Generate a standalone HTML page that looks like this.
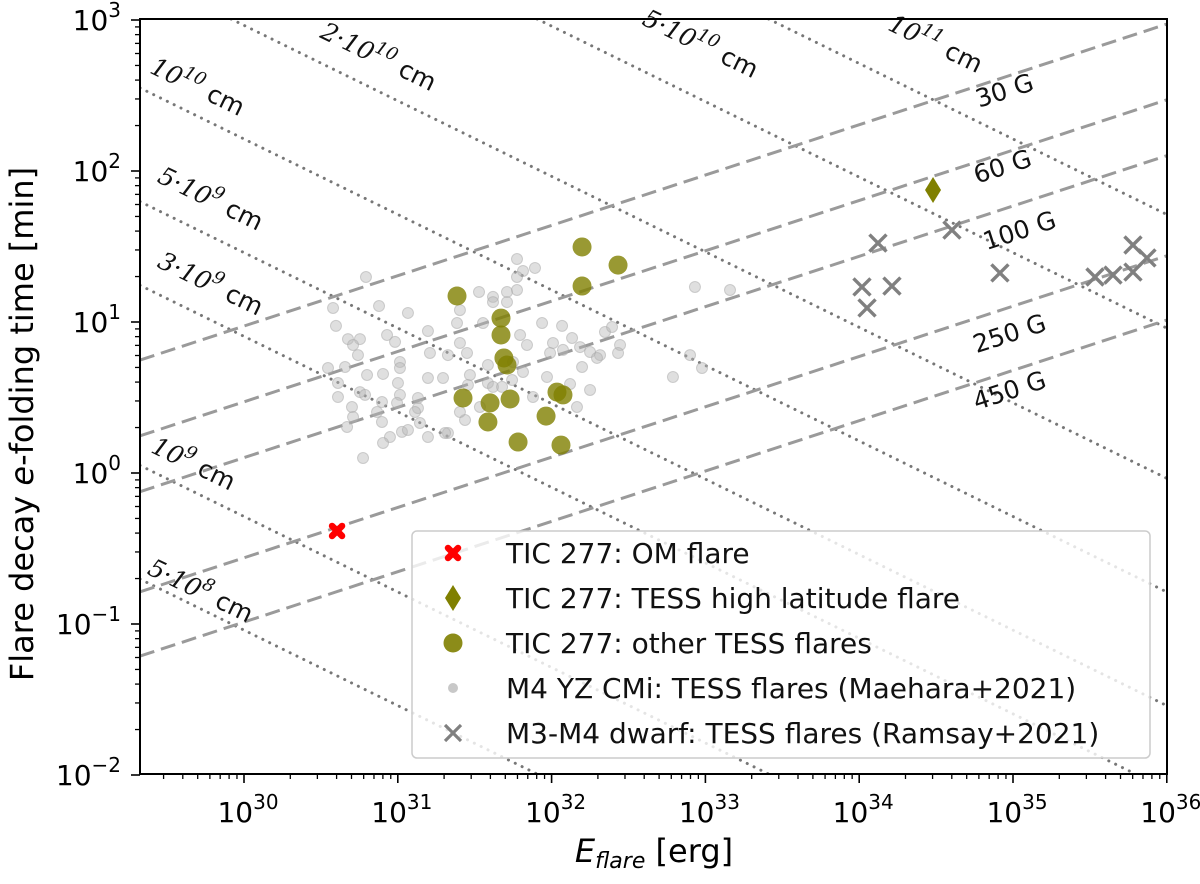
<!DOCTYPE html>
<html><head><meta charset="utf-8"><style>
html,body{margin:0;padding:0;background:#fff;overflow:hidden;}
svg{display:block;font-family:"DejaVu Sans","Liberation Sans",sans-serif;}
</style></head><body>
<svg id="chart" width="1200" height="884" viewBox="0 0 1200 884" xmlns="http://www.w3.org/2000/svg">
<defs><clipPath id="plotclip"><rect x="140" y="19" width="1027" height="755"/></clipPath></defs>
<rect x="0" y="0" width="1200" height="884" fill="#fff"/>
<g id="guides" clip-path="url(#plotclip)"></g>
<g id="guideLabels"></g>
<g id="marks" clip-path="url(#plotclip)"></g>
<g id="axes"></g>
<g id="legend"></g>
<text x="654" y="862" font-size="32" text-anchor="middle"><tspan font-style="italic">E</tspan><tspan font-style="italic" font-size="22" dy="6">flare</tspan><tspan dy="-6"> [erg]</tspan></text>
<text transform="translate(33,424) rotate(-90)" font-size="32" text-anchor="middle">Flare decay <tspan font-style="italic">e</tspan>-folding time [min]</text>
</svg>
<script>
// ---- data (log10 values) ----
const omLogE = [30.605];
const omLogTau = [-0.384];
const hlLogE = [34.48];
const hlLogTau = [1.874];
const tessLogE = [31.385,31.671,31.671,31.690,31.710,31.424,31.600,31.730,31.586,31.782,31.964,32.035,32.074,32.061,32.198,32.198,32.432];
const tessLogTau = [1.172,1.026,0.914,0.762,0.715,0.497,0.464,0.490,0.338,0.205,0.377,0.536,0.517,0.185,1.497,1.238,1.377];
const maeharaLogE = [30.793,30.579,30.598,30.878,31.066,30.676,30.754,30.709,30.741,30.930,30.982,31.196,30.546,30.657,30.800,30.904,31.014,31.014,30.611,30.754,30.787,31.001,31.014,30.897,30.702,30.709,30.670,30.865,30.897,30.995,31.131,31.131,30.949,30.904,31.027,31.066,31.196,31.326,30.774,31.196,31.294,31.209,31.326,31.404,31.450,31.385,31.404,31.528,31.619,31.619,31.710,31.710,31.775,31.775,31.814,31.892,31.775,31.554,31.795,31.840,31.938,32.068,32.009,31.990,32.133,32.074,32.185,32.250,32.315,32.347,32.393,32.445,32.432,32.295,32.198,31.970,32.120,32.250,31.879,31.814,31.749,31.586,31.469,31.456,31.586,31.619,31.678,31.743,31.437,31.404,31.534,32.165,32.789,32.900,32.978,32.932,33.160,31.307,30.611,31.112,31.144];
const maeharaLogTau = [1.298,1.093,0.974,1.106,1.060,0.887,0.887,0.848,0.781,0.914,0.868,0.940,0.695,0.702,0.649,0.656,0.735,0.695,0.596,0.536,0.517,0.596,0.517,0.470,0.437,0.371,0.305,0.404,0.338,0.464,0.497,0.430,0.238,0.199,0.272,0.285,0.238,0.265,0.099,0.629,0.629,0.795,0.781,0.861,0.795,0.993,1.079,1.199,1.166,1.132,1.199,1.132,1.212,1.417,1.338,1.358,1.298,0.993,0.914,0.848,0.993,0.974,0.861,0.795,0.894,0.815,0.834,0.801,0.781,0.934,0.967,0.848,0.795,0.762,0.702,0.636,0.589,0.550,0.503,0.669,0.735,0.715,0.649,0.583,0.596,0.570,0.570,0.616,0.351,0.404,0.437,0.437,0.636,0.781,0.695,1.232,1.212,0.265,0.503,0.404,0.331];
const ramsayLogE = [34.122,34.603,34.915,34.018,34.213,34.051,35.533,35.650,35.780,35.780,35.871];
const ramsayLogTau = [1.523,1.609,1.325,1.232,1.238,1.093,1.298,1.311,1.331,1.510,1.424];
const lengthsCm = [5e8,1e9,3e9,5e9,1e10,2e10,5e10,1e11];
const fieldsG = [30,60,100,250,450];
const xTickExp = [30,31,32,33,34,35,36];
const yTickExp = [-2,-1,0,1,2,3];
const legendLabels = ["TIC 277: OM flare","TIC 277: TESS high latitude flare","TIC 277: other TESS flares","M4 YZ CMi: TESS flares (Maehara+2021)","M3-M4 dwarf: TESS flares (Ramsay+2021)"];

// ---- axes ----
const X0=244, XD=153.8, Y0=473, YD=151;
const LEFT=140, RIGHT=1167, TOP=19, BOTTOM=774;
const LOGEMIN=30+(LEFT-X0)/XD, LOGEMAX=36;
const LOGTMIN=(Y0-BOTTOM)/YD, LOGTMAX=(Y0-TOP)/YD;
function xs(l){return X0+(l-30)*XD;}
function ys(l){return Y0-l*YD;}
const NS="http://www.w3.org/2000/svg";
function mk(tag,attrs,parent){const e=document.createElementNS(NS,tag);for(const k in attrs)e.setAttribute(k,attrs[k]);parent.appendChild(e);return e;}
// clip a line logT = a*logE + b to the plot box (in data space)
function clipSeg(a,b){
  let e1=LOGEMIN,e2=LOGEMAX;
  const eA=(LOGTMIN-b)/a, eB=(LOGTMAX-b)/a;
  const lo=Math.min(eA,eB), hi=Math.max(eA,eB);
  e1=Math.max(e1,lo); e2=Math.min(e2,hi);
  return [e1,e2];
}

const guides=document.getElementById('guides');
lengthsCm.forEach(L=>{
  const a=-0.5, b=2.5*Math.log10(L)-7.788;
  const [e1,e2]=clipSeg(a,b);
  const ln=mk('line',{x1:xs(e1),y1:ys(a*e1+b),x2:xs(e2),y2:ys(a*e2+b),stroke:'#777','stroke-width':3,'stroke-dasharray':'0.1,7.5','stroke-linecap':'round'},guides);
  
  
});
fieldsG.forEach(B=>{
  const a=1/3, b=-5/3*Math.log10(B)-6.565;
  const [e1,e2]=clipSeg(a,b);
  const ln=mk('line',{x1:xs(e1),y1:ys(a*e1+b),x2:xs(e2),y2:ys(a*e2+b),stroke:'#9a9a9a','stroke-width':3,'stroke-dasharray':'15,7'},guides);
  
  
});

// guide labels
const gl=document.getElementById('guideLabels');
const dotLabels=[
 [197,88,'10','10'],[378,58,'2·10','10'],[700,45,'5·10','10'],[935,45,'10','11'],
 [210,200,'5·10','9'],[210,285,'3·10','9'],[193,465,'10','9'],[200,592,'5·10','8']];
dotLabels.forEach(d=>{
  const t=mk('text',{transform:`translate(${d[0]},${d[1]}) rotate(26)`,'font-size':25,'text-anchor':'middle','dominant-baseline':'middle',fill:'#111'},gl);
  
  
  t.innerHTML=`<tspan font-style="italic" font-family="DejaVu Serif, serif">${d[2]}</tspan><tspan font-style="italic" font-family="DejaVu Serif, serif" font-size="18" dy="-9">${d[3]}</tspan><tspan dy="9"> cm</tspan>`;
});
const gLabels=[[1005,92,'30 G'],[1003,168,'60 G'],[1020,232,'100 G'],[1010,335,'250 G'],[1010,392,'450 G']];
gLabels.forEach(d=>{
  const t=mk('text',{transform:`translate(${d[0]},${d[1]}) rotate(-18)`,'font-size':25,'text-anchor':'middle','dominant-baseline':'middle',fill:'#111'},gl);
  
  
  t.textContent=d[2];
});

// marks
const marks=document.getElementById('marks');
function xMark(cx,cy,s,color,w,parent){
  const g=mk('g',{},parent);
  mk('line',{x1:cx-s,y1:cy-s,x2:cx+s,y2:cy+s,stroke:color,'stroke-width':w},g);
  mk('line',{x1:cx-s,y1:cy+s,x2:cx+s,y2:cy-s,stroke:color,'stroke-width':w},g);
  return g;
}
maeharaLogE.forEach((l,i)=>{
  const c=mk('circle',{cx:xs(l),cy:ys(maeharaLogTau[i]),r:5.5,fill:'#b8b8b8','fill-opacity':0.45,stroke:'#a8a8a8','stroke-opacity':0.5,'stroke-width':1},marks);
  
  
});
ramsayLogE.forEach((l,i)=>{
  const g=xMark(xs(l),ys(ramsayLogTau[i]),8.5,'#808080',3.4,marks);
  
  
});
tessLogE.forEach((l,i)=>{
  const c=mk('circle',{cx:xs(l),cy:ys(tessLogTau[i]),r:9.5,fill:'#808000','fill-opacity':0.8},marks);
  
  
});
hlLogE.forEach((l,i)=>{
  const cx=xs(l),cy=ys(hlLogTau[i]);
  const p=mk('polygon',{points:`${cx},${cy-13} ${cx+8},${cy} ${cx},${cy+13} ${cx-8},${cy}`,fill:'#808000'},marks);
  
  
});
function redX(cx,cy,parent){
  const g=mk('g',{},parent);
  mk('line',{x1:cx-5,y1:cy-5,x2:cx+5,y2:cy+5,stroke:'#ff0000','stroke-width':6.5,'stroke-linecap':'round'},g);
  mk('line',{x1:cx-5,y1:cy+5,x2:cx+5,y2:cy-5,stroke:'#ff0000','stroke-width':6.5,'stroke-linecap':'round'},g);
  return g;
}
omLogE.forEach((l,i)=>{
  const g=redX(xs(l),ys(omLogTau[i]),marks);
  
  
});

// axes
const ax=document.getElementById('axes');
const frame=mk('rect',{x:LEFT,y:TOP,width:RIGHT-LEFT,height:BOTTOM-TOP,fill:'none',stroke:'#000','stroke-width':2},ax);


for(let d=29;d<36;d++){for(let m=2;m<=9;m++){const l=d+Math.log10(m);if(l<LOGEMIN||l>LOGEMAX)continue;const x=xs(l);mk('line',{x1:x,y1:BOTTOM,x2:x,y2:BOTTOM+5,stroke:'#000','stroke-width':1.3},ax);}}
for(let d=-2;d<3;d++){for(let m=2;m<=9;m++){const y=ys(d+Math.log10(m));mk('line',{x1:LEFT,y1:y,x2:LEFT-5,y2:y,stroke:'#000','stroke-width':1.3},ax);}}
xTickExp.forEach(e=>{
  const x=xs(e);
  mk('line',{x1:x,y1:BOTTOM,x2:x,y2:BOTTOM+9,stroke:'#000','stroke-width':1.6},ax);
  const t=mk('text',{x:x+4,y:822,'font-size':28,'text-anchor':'middle'},ax);
  
  
  t.innerHTML=`10<tspan font-size="20" dy="-13">${e}</tspan>`;
});
yTickExp.forEach(e=>{
  const y=ys(e);
  mk('line',{x1:LEFT,y1:y,x2:LEFT-9,y2:y,stroke:'#000','stroke-width':1.6},ax);
  const t=mk('text',{x:121,y:y+10,'font-size':28,'text-anchor':'end'},ax);
  
  
  t.innerHTML=`10<tspan font-size="20" dy="-13">${e<0?'\u2212'+(-e):e}</tspan>`;
});

// legend
const lg=document.getElementById('legend');
const box=mk('rect',{x:412,y:531,width:738,height:227,rx:5,fill:'#fff','fill-opacity':0.8,stroke:'#cccccc','stroke-width':1.5},lg);


const ly=[553,598,643,688,733];
legendLabels.forEach((s,i)=>{
  const g=mk('g',{},lg);
  
  
  const cx=453,cy=ly[i];
  if(i===0)redX(cx,cy,g);
  if(i===1)mk('polygon',{points:`${cx},${cy-13} ${cx+8},${cy} ${cx},${cy+13} ${cx-8},${cy}`,fill:'#808000'},g);
  if(i===2)mk('circle',{cx:cx,cy:cy,r:9.5,fill:'#808000','fill-opacity':0.9},g);
  if(i===3)mk('circle',{cx:cx,cy:cy,r:5,fill:'#c8c8c8'},g);
  if(i===4)xMark(cx,cy,8,'#808080',3.2,g);
  const t=mk('text',{x:506,y:cy+10,'font-size':28,fill:'#111'},g);
  
  
  t.textContent=s;
});
</script>
</body></html>
